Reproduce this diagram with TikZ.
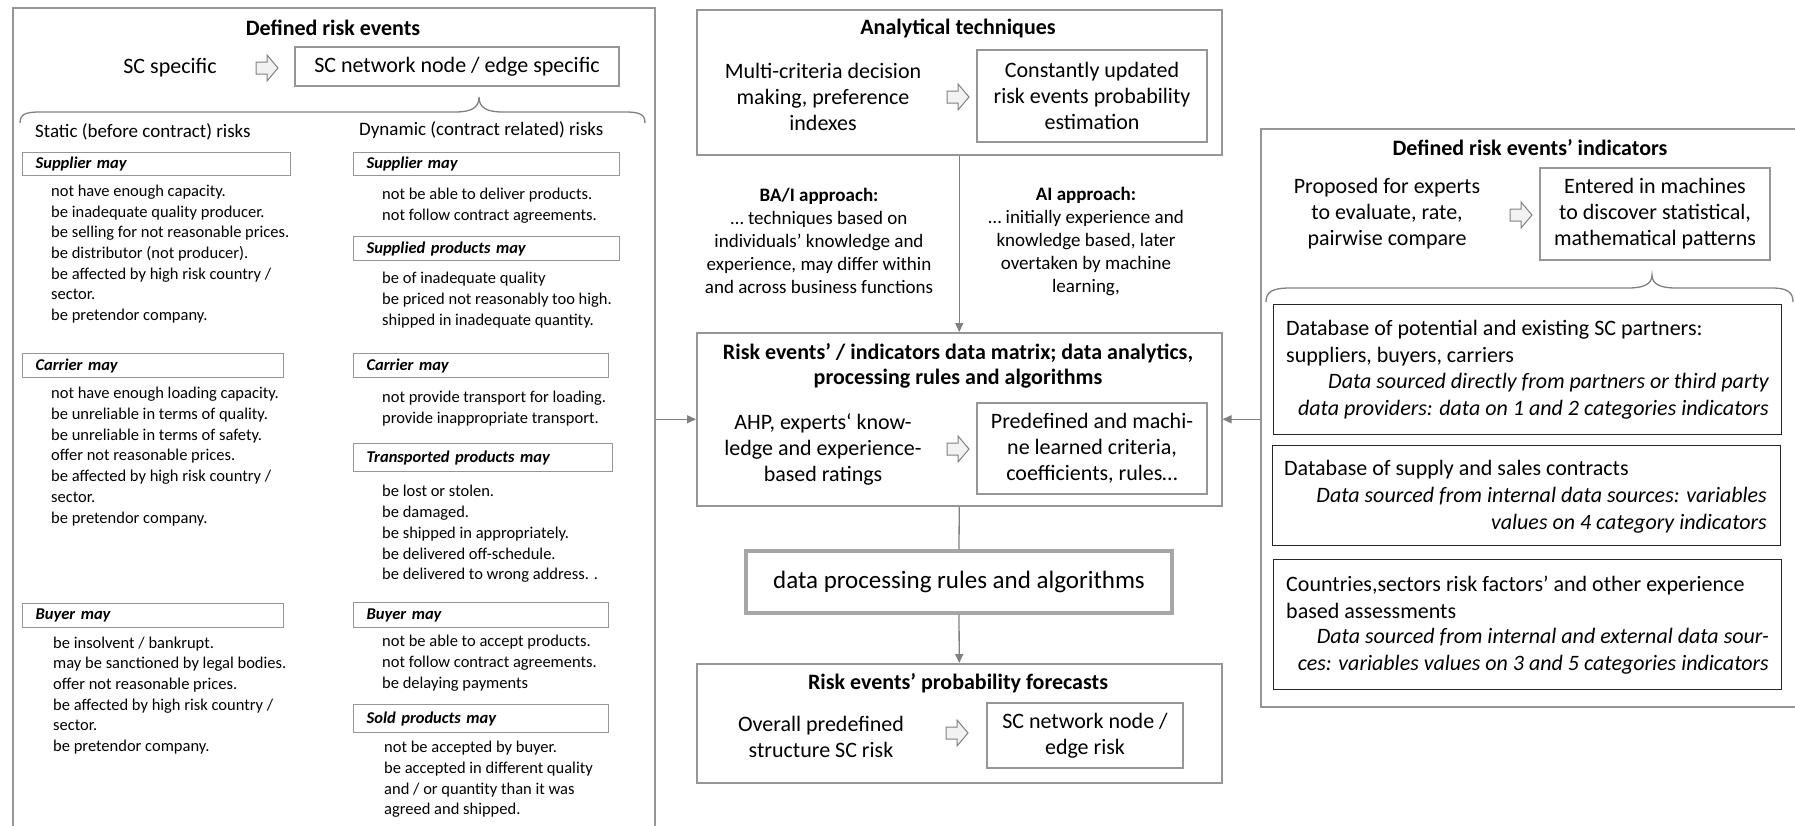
\documentclass[tikz,border=0pt]{standalone}
\usepackage{fontspec}
\setmainfont{Carlito}
\usetikzlibrary{arrows.meta}
\definecolor{boxgray}{RGB}{150,150,150}
\definecolor{linegray}{RGB}{128,128,128}
\definecolor{arrowfill}{RGB}{242,242,242}
\newcommand\fsz[2]{\fontsize{#1}{#2}\selectfont}
% hollow block arrow, left end at (#1,#2)
\newcommand\blockarr[2]{\draw[barrow] (#1,#2) ++(0,-6) -- ++(11,0) -- ++(0,-7) -- ++(11,13) -- ++(-11,13) -- ++(0,-7) -- ++(-11,0) -- cycle;}
\begin{document}
\begin{tikzpicture}[x=1pt,y=-1pt,
  frame/.style={draw=boxgray, line width=1.5pt, inner sep=0pt, anchor=north west},
  inbox/.style={draw=boxgray, line width=1.4pt, inner sep=0pt, align=center, font=\fsz{22}{26}},
  dbbox/.style={draw=black!85, line width=1.3pt, inner sep=0pt, anchor=north west},
  hdr/.style={draw=boxgray, line width=1.3pt, inner xsep=13pt, inner ysep=0pt, anchor=north west,
     align=left, font=\fsz{16.5}{20}\bfseries\itshape},
  items/.style={inner sep=0pt, anchor=west, align=left, font=\fsz{16.5}{20.7}},
  ttl/.style={inner sep=0pt, font=\fsz{22}{25}\bfseries, align=center},
  body/.style={inner sep=0pt, font=\fsz{22}{26}, align=center},
  note/.style={inner sep=0pt, font=\fsz{19}{23}, align=center},
  dbtxt/.style={inner sep=0pt, font=\fsz{22}{27}, align=left, anchor=west},
  dbit/.style={inner sep=0pt, font=\fsz{22}{27}\itshape, align=right, anchor=east},
  conn/.style={draw=linegray, line width=1.3pt, -{Triangle[length=9pt,width=8pt]}},
  plain/.style={draw=linegray, line width=1.3pt},
  brace/.style={draw=linegray, line width=1.3pt},
  barrow/.style={draw=linegray, fill=arrowfill, line width=1pt, line join=miter}
]
\useasboundingbox (0,0) rectangle (1795,825);

%% ---------------- left panel: defined risk events ----------------
\node[frame, minimum width=642, minimum height=840] (lbox) at (12,7) {};
\node[ttl] (ltitle) at (333,28) {Defined risk events};
\node[inner sep=0pt, font=\fsz{22}{26}] (scspec) at (170,68) {SC specific};
\blockarr{256}{68}
\node[inbox, minimum width=324, minimum height=39] (scnode) at (457,66.5) {SC network node / edge specific};
\draw[brace] (20,123) .. controls (20,114) and (26,112) .. (40,112) -- (455,112)
  .. controls (471,112) and (479,108) .. (479,97) .. controls (479,108) and (487,112) .. (503,112)
  -- (625,112) .. controls (639,112) and (645,114) .. (645,123);
\node[inner sep=0pt, font=\fsz{19}{23}, anchor=west] (static) at (35,132) {Static (before contract) risks};
\node[inner sep=0pt, font=\fsz{19}{23}, anchor=west] (dynamic) at (359,130) {Dynamic (contract related) risks};

% static column
\node[hdr, text width=242, minimum height=23] (hsup) at (22,152) {Supplier may};
\node[items] (lsup) at (51,254) {not have enough capacity.\\be inadequate quality producer.\\be selling for not reasonable prices.\\be distributor (not producer).\\be affected by high risk country /\\sector.\\be pretendor company.};
\node[hdr, text width=235, minimum height=24] (hcar) at (22,353) {Carrier may};
\node[items] (lcar) at (51,456.5) {not have enough loading capacity.\\be unreliable in terms of quality.\\be unreliable in terms of safety.\\offer not reasonable prices.\\be affected by high risk country /\\sector.\\be pretendor company.};
\node[hdr, text width=235, minimum height=24] (hbuy) at (22,603) {Buyer may};
\node[items] (lbuy) at (53,695.5) {be insolvent / bankrupt.\\may be sanctioned by legal bodies.\\offer not reasonable prices.\\be affected by high risk country /\\sector.\\be pretendor company.};

% dynamic column
\node[hdr, text width=240, minimum height=23] (hsup2) at (353,152) {Supplier may};
\node[items] (rsup) at (382,205.5) {not be able to deliver products.\\not follow contract agreements.};
\node[hdr, text width=240, minimum height=24] (hspl) at (353,236) {Supplied products may};
\node[items] (rspl) at (382,300) {be of inadequate quality\\be priced not reasonably too high.\\shipped in inadequate quantity.};
\node[hdr, text width=229, minimum height=24] (hcar2) at (353,353) {Carrier may};
\node[items] (rcar) at (382,408.5) {not provide transport for loading.\\provide inappropriate transport.};
\node[hdr, text width=233, minimum height=28] (htrp) at (353,443) {Transported products may};
\node[items] (rtrp) at (382,534) {be lost or stolen.\\be damaged.\\be shipped in appropriately.\\be delivered off-schedule.\\be delivered to wrong address. .};
\node[hdr, text width=229, minimum height=25] (hbuy2) at (353,602) {Buyer may};
\node[items] (rbuy) at (382,663) {not be able to accept products.\\not follow contract agreements.\\be delaying payments};
\node[hdr, text width=229, minimum height=28] (hsold) at (353,704) {Sold products may};
\node[items] (rsold) at (384,779.5) {not be accepted by buyer.\\be accepted in different quality\\and / or quantity than it was\\agreed and shipped.};

%% ---------------- centre column ----------------
\node[frame, minimum width=525, minimum height=145] (atech) at (696,9) {};
\node[ttl] (attl) at (958,28) {Analytical techniques};
\node[body] (mcdm) at (823,97) {Multi-criteria decision\\making, preference\\indexes};
\blockarr{947}{97}
\node[inbox, minimum width=230, minimum height=92] (cupd) at (1092,96) {Constantly updated\\risk events probability\\estimation};

\node[note] (bai) at (819,241) {\textbf{BA/I approach:}\\… techniques based on\\individuals’ knowledge and\\experience, may differ within\\and across business functions};
\node[note] (aiap) at (1086,241) {\textbf{AI approach:}\\… initially experience and\\knowledge based, later\\overtaken by machine\\learning,};

\node[frame, minimum width=525, minimum height=173] (mx) at (696,332) {};
\node[ttl] (mxttl) at (958,365.5) {Risk events’ / indicators data matrix; data analytics,\\processing rules and algorithms};
\node[body] (ahp) at (823,449) {AHP, experts‘ know-\\ledge and experience-\\based ratings};
\blockarr{947}{449}
\node[inbox, minimum width=230, minimum height=91] (pdef) at (1092,448.5) {Predefined and machi-\\ne learned criteria,\\coefficients, rules…};

\node[draw=boxgray!85, line width=3.2pt, minimum width=426, minimum height=62, inner sep=0pt,
      font=\fsz{25}{28}] (dp) at (959,582) {data processing rules and algorithms};

\node[frame, minimum width=525, minimum height=119] (fc) at (696,663) {};
\node[ttl] (fcttl) at (958,683) {Risk events’ probability forecasts};
\node[body] (ovr) at (821,736.5) {Overall predefined\\structure SC risk};
\blockarr{946}{733}
\node[inbox, minimum width=196, minimum height=65] (edge) at (1085,735.5) {SC network node /\\edge risk};

%% ---------------- right panel: indicators ----------------
\node[frame, minimum width=560, minimum height=578] (rbox) at (1260,128) {};
\node[ttl] (rttl) at (1530,148) {Defined risk events’ indicators};
\node[body] (prop) at (1387,214) {Proposed for experts\\to evaluate, rate,\\pairwise compare};
\blockarr{1510}{215}
\node[inbox, minimum width=230, minimum height=92] (entr) at (1655,214) {Entered in machines\\to discover statistical,\\mathematical patterns};
\draw[brace] (1266,302) .. controls (1266,292) and (1272,288) .. (1290,288) -- (1628,288)
  .. controls (1644,288) and (1652,284) .. (1652,275) .. controls (1652,284) and (1660,288) .. (1676,288)
  -- (1772,288) .. controls (1787,288) and (1793,292) .. (1793,302);

\node[dbbox, minimum width=508, minimum height=130] (db1) at (1273,304) {};
\node[dbtxt] (db1a) at (1286,343.5) {Database of potential and existing SC partners:\\suppliers, buyers, carriers};
\node[dbit] (db1b) at (1769,396.5) {Data sourced directly from partners or third party\\data providers: data on 1 and 2 categories indicators};

\node[dbbox, minimum width=508, minimum height=100] (db2) at (1272,445) {};
\node[dbtxt] (db2a) at (1284,470) {Database of supply and sales contracts};
\node[dbit] (db2b) at (1767,510.5) {Data sourced from internal data sources: variables\\values on 4 category indicators};

\node[dbbox, minimum width=508, minimum height=130] (db3) at (1273,559) {};
\node[dbtxt] (db3a) at (1286,597.5) {Countries,sectors risk factors’ and other experience\\based assessments};
\node[dbit] (db3b) at (1769,651.5) {Data sourced from internal and external data sour-\\ces: variables values on 3 and 5 categories indicators};

%% ---------------- connectors ----------------
\draw[conn] (atech.south) -- (mx.north);
\draw[conn] (mx.west -| lbox.east) -- (mx.west);
\draw[conn] (mx.east -| rbox.west) -- (mx.east);
\draw[plain] (mx.south) -- (dp.north);
\draw[conn] (dp.south) -- (fc.north);
\end{tikzpicture}
\end{document}
